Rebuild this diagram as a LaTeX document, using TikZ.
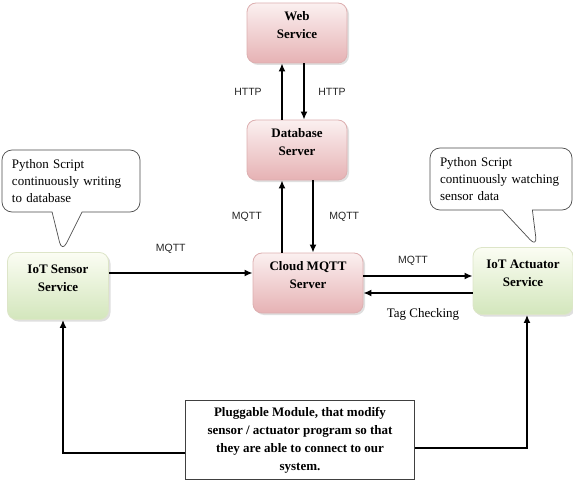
\documentclass[tikz,border=0pt]{standalone}
\usepackage{fontspec}
\setmainfont{Liberation Serif}
\setsansfont{Liberation Sans}
\usetikzlibrary{shapes.callouts,shadows,arrows.meta}

\definecolor{pinktop}{HTML}{FBF0F0}
\definecolor{pinkbot}{HTML}{E6B2B4}
\definecolor{pinkline}{HTML}{DDAFB0}
\definecolor{greentop}{HTML}{FBFDF3}
\definecolor{greenbot}{HTML}{D3E6BC}
\definecolor{greenline}{HTML}{DDE5C8}

\begin{document}
\begin{tikzpicture}[x=1pt, y=-1pt, thick,
    main/.style = {rounded corners=9pt, minimum height=60pt, align=center, text depth=16pt,
        font=\fontsize{13}{18}\selectfont\bfseries,
        drop shadow={opacity=0.25, shadow xshift=2pt, shadow yshift=-2pt}},
    pinkbox/.style = {main, draw=pinkline, top color=pinktop, bottom color=pinkbot},
    greenbox/.style = {main, draw=greenline, top color=greentop, bottom color=greenbot, minimum height=67pt},
    plugbox/.style = {draw=black!75, fill=white, line width=0.8pt, align=center, minimum width=229pt, minimum height=79pt,
        font=\fontsize{13}{18}\selectfont\bfseries},
    note/.style = {shape=rectangle callout, draw=black!70, fill=white, line width=0.7pt, rounded corners=10pt,
        align=left, inner xsep=10pt, minimum height=62pt, callout pointer width=30pt,
        font=\fontsize{13}{17}\selectfont},
    lbl/.style = {font=\sffamily\fontsize{10.5}{12}\selectfont, text=black!85},
    arr/.style = {line width=2pt, -{Latex[length=8pt,width=7pt]}}]
    \useasboundingbox (0,0) rectangle (573,484);

    \node[pinkbox, minimum width=100pt] (1) at (297,33)  {Web\\Service};
    \node[pinkbox, minimum width=100pt] (2) at (297,150) {Database\\Server};
    \node[pinkbox, minimum width=110pt] (3) at (308,283) {Cloud MQTT\\Server};
    \node[greenbox, minimum width=101pt] (4) at (58,286)  {IoT Sensor\\Service};
    \node[greenbox, minimum width=100pt] (5) at (523,281) {IoT Actuator\\Service};
    \node[plugbox] (6) at (300,440) {Pluggable Module, that modify\\sensor / actuator program so that\\they are able to connect to our\\system.};

    \node[note, text width=118pt, callout absolute pointer={([xshift=4pt]4.north)}] (7) at (71,181)
        {Python Script\\continuously writing\\to database};
    \node[note, text width=122pt, callout absolute pointer={([xshift=14pt]5.north)}] (8) at (501,179)
        {Python Script\\continuously watching\\sensor data};

    \draw[arr] ([xshift=-15pt]2.north) to node[midway, left=16pt, lbl] {HTTP} ([xshift=-15pt]1.south);
    \draw[arr] ([xshift=7pt]1.south) to node[midway, right=10pt, lbl] {HTTP} ([xshift=7pt]2.north);
    \draw[arr] ([xshift=-26pt]3.north) to node[midway, left=16pt, lbl] {MQTT} ([xshift=-15pt]2.south);
    \draw[arr] ([xshift=16pt]2.south) to node[midway, right=12pt, lbl] {MQTT} ([xshift=5pt]3.north);
    \draw[arr] ([yshift=13pt]4.east) to node[midway, above=15pt, xshift=-10pt, lbl] {MQTT} ([yshift=10pt]3.west);
    \draw[arr] ([yshift=7pt]3.east) to node[midway, above=6pt, xshift=-5pt, lbl] {MQTT} ([yshift=5pt]5.west);
    \draw[arr] ([yshift=-12pt]5.west) to node[midway, below=11pt, xshift=5pt, font=\fontsize{13}{14}\selectfont] {Tag Checking} ([yshift=-10pt]3.east);
    \draw[arr] ([yshift=-13pt]6.west) -| ([xshift=5pt]4.south);
    \draw[arr] ([yshift=-8pt]6.east) -| ([xshift=4pt]5.south);
\end{tikzpicture}
\end{document}
